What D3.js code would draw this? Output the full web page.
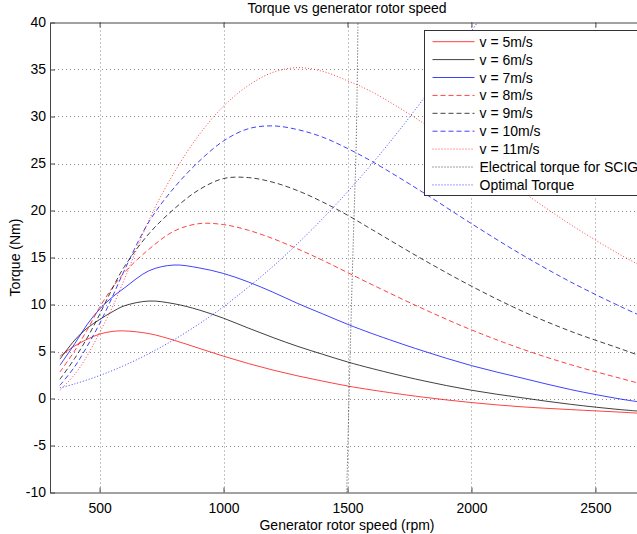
<!DOCTYPE html>
<html>
<head>
<meta charset="utf-8">
<script src="https://cdn.jsdelivr.net/npm/d3@7"></script>
<style>
  body { margin: 0; background: #fff; }
  text { font-family: "Liberation Sans", Arial, Helvetica, sans-serif; fill: #000; }
</style>
</head>
<body>
<div id="chart"></div>
<script>
"use strict";

// rotor speed grid (rpm) shared by the turbine curves
const rpm = [340, 400, 450, 500, 550, 600, 700, 800, 900, 1000, 1100, 1200, 1300, 1400, 1500, 1600, 1800, 2000, 2200, 2400, 2600, 2700];

// turbine torque (Nm) per wind speed
const v5 = [4.5, 5.6, 6.3, 6.85, 7.13, 7.19, 6.9, 6.2, 5.35, 4.5, 3.72, 3.02, 2.4, 1.85, 1.33, 0.9, 0.16, -0.43, -0.88, -1.18, -1.45, -1.6];
const v6 = [4.19, 6.22, 7.49, 8.4, 9.2, 9.86, 10.37, 10.08, 9.43, 8.54, 7.49, 6.48, 5.54, 4.7, 3.89, 3.18, 1.92, 0.88, 0.09, -0.62, -1.18, -1.39];
const v7 = [3.53, 5.84, 7.88, 9.51, 10.75, 11.76, 13.6, 14.2, 13.9, 13.3, 12.4, 11.3, 10.1, 9.0, 7.9, 6.9, 5.1, 3.5, 2.2, 0.95, -0.05, -0.45];
const v8 = [2.82, 5.1, 7.3, 9.7, 11.72, 13.4, 15.9, 17.8, 18.6, 18.5, 17.9, 17.0, 15.9, 14.7, 13.4, 12.1, 9.6, 7.3, 5.3, 3.6, 2.15, 1.45];
const v9 = [2.04, 4.28, 6.45, 8.94, 11.63, 14.03, 17.56, 20.15, 22.19, 23.4, 23.5, 23.0, 22.1, 20.9, 19.5, 17.95, 14.85, 11.95, 9.35, 7.15, 5.3, 4.35];
const v10 = [1.4, 3.4, 5.56, 7.96, 10.72, 13.64, 18.84, 22.4, 25.2, 27.4, 28.7, 29.0, 28.6, 27.8, 26.6, 25.2, 22.0, 18.6, 15.35, 12.4, 9.8, 8.6];
const v11 = [0.87, 2.57, 4.55, 7.02, 9.63, 12.68, 19.02, 24.0, 28.0, 31.1, 33.3, 34.7, 35.2, 34.8, 33.8, 32.6, 29.4, 25.8, 22.1, 18.5, 15.3, 13.9];

// electrical torque of the SCIG near synchronous speed
const scigRpm = [1497, 1506, 1516, 1527, 1534, 1539, 1542];
const scigTorque = [-10, 0, 10, 20, 26, 33, 40];

// optimal torque curve
const optRpm = [340, 400, 500, 600, 700, 800, 900, 1000, 1200, 1400, 1600, 1800, 2000, 2100];
const optTorque = [1.13, 1.56, 2.44, 3.52, 4.79, 6.25, 7.91, 9.77, 14.07, 19.15, 25.01, 31.66, 39.08, 43.09];

const xTicks = [500, 1000, 1500, 2000, 2500];
const yTicks = [-10, -5, 0, 5, 10, 15, 20, 25, 30, 35, 40];

const seriesNames = ["v = 5m/s", "v = 6m/s", "v = 7m/s", "v = 8m/s", "v = 9m/s", "v = 10m/s", "v = 11m/s",
  "Electrical torque for SCIG", "Optimal Torque"];

// styles
const RED = "#ff0000", BLACK = "#000000", BLUE = "#0000ff";
const DASH = "5,3", DOT = "1,2";
const FONT = "14px";

const series = [
  { name: seriesNames[0], x: rpm, y: v5, color: RED, dash: null },
  { name: seriesNames[1], x: rpm, y: v6, color: BLACK, dash: null },
  { name: seriesNames[2], x: rpm, y: v7, color: BLUE, dash: null },
  { name: seriesNames[3], x: rpm, y: v8, color: RED, dash: DASH },
  { name: seriesNames[4], x: rpm, y: v9, color: BLACK, dash: DASH },
  { name: seriesNames[5], x: rpm, y: v10, color: BLUE, dash: DASH },
  { name: seriesNames[6], x: rpm, y: v11, color: RED, dash: DOT },
  { name: seriesNames[7], x: scigRpm, y: scigTorque, color: BLACK, dash: DOT },
  { name: seriesNames[8], x: optRpm, y: optTorque, color: BLUE, dash: DOT }
];

const svgWidth = 637, svgHeight = 534;
const plot = { left: 50, top: 22.5, right: 645, bottom: 492.5 };

const svg = d3.select("#chart").append("svg")
  .attr("width", svgWidth)
  .attr("height", svgHeight);

const x = d3.scaleLinear().domain([300, 2700]).range([plot.left, plot.right]);
const y = d3.scaleLinear().domain([-10, 40]).range([plot.bottom, plot.top]);

svg.append("clipPath").attr("id", "plotclip")
  .append("rect")
  .attr("x", plot.left).attr("y", plot.top)
  .attr("width", plot.right - plot.left).attr("height", plot.bottom - plot.top);

// grid
const grid = svg.append("g").attr("stroke", "#8a8a8a").attr("stroke-width", 1).attr("stroke-dasharray", "1,3");
grid.selectAll(".gx").data(xTicks).enter().append("line")
  .attr("x1", d => Math.round(x(d)) + 0.5).attr("x2", d => Math.round(x(d)) + 0.5)
  .attr("y1", plot.top).attr("y2", plot.bottom);
grid.selectAll(".gy").data(yTicks.slice(1, -1)).enter().append("line")
  .attr("y1", d => Math.round(y(d)) + 0.5).attr("y2", d => Math.round(y(d)) + 0.5)
  .attr("x1", plot.left).attr("x2", plot.right);

// axes
const plain = d => String(d);
const xAxis = svg.append("g")
  .attr("transform", "translate(0," + plot.bottom + ")")
  .call(d3.axisBottom(x).tickValues(xTicks).tickFormat(plain).tickSizeInner(-5).tickSizeOuter(0).tickPadding(11));
const xAxisTop = svg.append("g")
  .attr("transform", "translate(0," + plot.top + ")")
  .call(d3.axisTop(x).tickValues(xTicks).tickSizeInner(-5).tickSizeOuter(0).tickFormat(""));
const yAxis = svg.append("g")
  .attr("transform", "translate(" + plot.left + ",0)")
  .call(d3.axisLeft(y).tickValues(yTicks).tickFormat(plain).tickSizeInner(-5).tickSizeOuter(0).tickPadding(4));

[xAxis, xAxisTop, yAxis].forEach(function (g) {
  g.select(".domain").attr("stroke", "#444");
  g.selectAll(".tick line").attr("stroke", "#444");
  g.selectAll(".tick text").style("font-size", FONT).attr("fill", "#000")
    .style("font-family", "'Liberation Sans', Arial, sans-serif");
});

// curves
const curves = svg.append("g").attr("clip-path", "url(#plotclip)");
const line = d3.line().curve(d3.curveCatmullRom.alpha(0.5));
curves.selectAll("path").data(series).enter().append("path")
  .attr("d", s => line(s.x.map((v, i) => [x(v), y(s.y[i])])))
  .attr("fill", "none")
  .attr("stroke", s => s.color)
  .attr("stroke-opacity", 0.75)
  .attr("stroke-width", 1)
  .attr("stroke-dasharray", s => s.dash);

// titles
svg.append("text").attr("x", 347).attr("y", 13).attr("text-anchor", "middle")
  .style("font-size", FONT).text("Torque vs generator rotor speed");
svg.append("text").attr("x", 347).attr("y", 530).attr("text-anchor", "middle")
  .style("font-size", FONT).text("Generator rotor speed (rpm)");
svg.append("text").attr("transform", "translate(20," + ((plot.top + plot.bottom) / 2) + ") rotate(-90)")
  .attr("text-anchor", "middle").style("font-size", FONT).text("Torque (Nm)");

// legend
const legend = svg.append("g").attr("transform", "translate(424.5,30.5)");
legend.append("rect").attr("width", 230).attr("height", 165)
  .attr("fill", "#fff").attr("stroke", "#333").attr("stroke-width", 1);
const rows = legend.selectAll(".row").data(series).enter().append("g")
  .attr("transform", (d, i) => "translate(0," + (11.2 + i * 17.9) + ")");
rows.append("line").attr("x1", 8).attr("x2", 50)
  .attr("stroke", s => s.color).attr("stroke-opacity", 0.75)
  .attr("stroke-dasharray", s => s.dash);
rows.append("text").attr("x", 55).attr("dy", "0.36em")
  .style("font-size", FONT).text(s => s.name);
</script>
</body>
</html>
